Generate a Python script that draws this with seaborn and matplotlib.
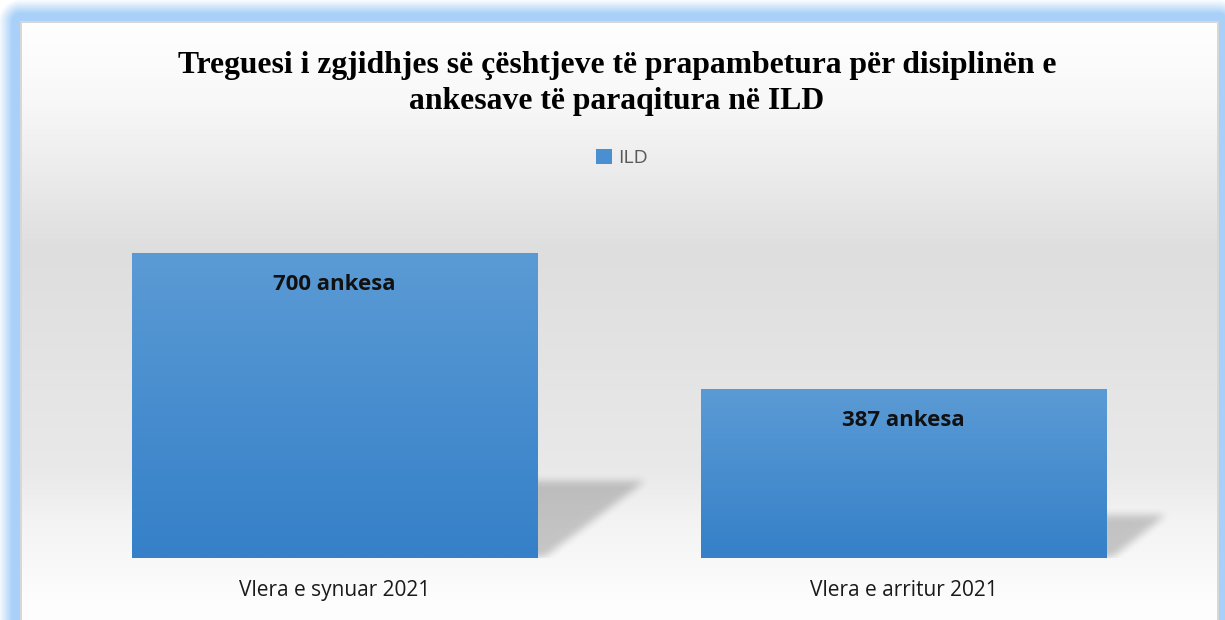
import numpy as np
import pandas as pd
import matplotlib
matplotlib.use("Agg")
import matplotlib.pyplot as plt
import seaborn as sns
from matplotlib.patches import Patch

# ---- data ----
categories = ["Vlera e synuar 2021", "Vlera e arritur 2021"]
values = [700, 387]
value_labels = ["700 ankesa", "387 ankesa"]
series_name = "ILD"
title_text = "Treguesi i zgjidhjes së çështjeve të prapambetura për disiplinën e\nankesave të paraqitura në ILD"

df = pd.DataFrame({"category": categories, "value": values, "series": [series_name] * len(categories)})

sns.set_theme(style="white")
plt.rcParams["font.family"] = ["Open Sans", "DejaVu Sans"]

W, H = 1225, 620
fig = plt.figure(figsize=(W / 100, H / 100), dpi=100)

# ---- background (decoration): blue glow frame + gradient panel ----
bg = fig.add_axes([0, 0, 1, 1], zorder=-10)
bg.set_xlim(0, W)
bg.set_ylim(H, 0)
bg.axis("off")
yy, xx = np.mgrid[0:H, 0:W]
px0, px1, py0 = 20, 1218, 21
dx = np.maximum(np.maximum(px0 - xx, xx - px1), 0)
dy = np.maximum(py0 - yy, 0)
d = np.sqrt(dx ** 2 + dy ** 2)
inside = (xx >= px0) & (xx <= px1) & (yy >= py0)
blue = np.array([168, 208, 248]) / 255.0
white = np.array([1.0, 1.0, 1.0])
t = np.clip(1 - (d - 8) / 14, 0, 1)[..., None]
img = white * (1 - t) + blue * t
ctrl_y = [21, 100, 250, 470, 520, 600, 620]
ctrl_v = [255, 248, 222, 233, 243, 253, 254]
g = np.interp(np.arange(H), ctrl_y, ctrl_v) / 255.0
panel = np.repeat(g[:, None], W, axis=1)[..., None] * np.ones(3)
img = np.where(inside[..., None], panel, img)
border = inside & ((xx <= px0 + 1) | (xx >= px1 - 1) | (yy <= py0 + 1))
img[border] = np.array([215, 215, 215]) / 255.0
bg.imshow(img, extent=(0, W, H, 0), aspect="auto", interpolation="bilinear")

# ---- main axes ----
ymax = 800
ax = fig.add_axes([50 / W, 62 / H, 1138 / W, 348.6 / H])
ax.patch.set_alpha(0)
sns.barplot(data=df, x="category", y="value", hue="series", ax=ax,
            width=0.712, palette=["#4a8fd2"], legend=False, saturation=1)
ax.set_xlim(-0.5, 1.5)
ax.set_ylim(0, ymax)
for s in ax.spines.values():
    s.set_visible(False)
ax.set_yticks([])
ax.set_xlabel("")
ax.set_ylabel("")
ax.tick_params(axis="x", length=0, pad=16, labelsize=15, labelcolor="#1a1a1a")

top_c = np.array([0x5B, 0x9B, 0xD5]) / 255.0
bot_c = np.array([0x35, 0x80, 0xC8]) / 255.0
grad = np.linspace(0, 1, 256)[:, None, None]
grad_img = top_c * (1 - grad) + bot_c * grad
grad_img = np.repeat(grad_img, 2, axis=1)

# blurred perspective shadows (decoration derived from bar geometry)
nx, ny = 1138, 349
gx = np.linspace(-0.5, 1.5, nx)
gy = np.linspace(ymax, 0, ny)
GX, GY = np.meshgrid(gx, gy)
mask = np.zeros_like(GX)
for p in ax.patches:
    x0 = p.get_x()
    w = p.get_width()
    h = p.get_height()
    xr = x0 + w
    sh = 0.25 * h
    ext = 0.00027 * h
    inpoly = (GY <= sh) & (GY >= 0) & (GX >= xr - 0.01) & \
             (GX <= xr + 0.012 + (ext - 0.012) * (GY / sh))
    mask = np.maximum(mask, inpoly.astype(float))
k = np.ones(9) / 9.0
for _ in range(2):
    mask = np.apply_along_axis(lambda r: np.convolve(r, k, mode="same"), 1, mask)
    mask = np.apply_along_axis(lambda c: np.convolve(c, k, mode="same"), 0, mask)
shadow = np.zeros((ny, nx, 4))
shadow[..., 3] = mask * 0.2
ax.imshow(shadow, extent=(-0.5, 1.5, 0, ymax), aspect="auto", zorder=0.5,
          interpolation="bilinear")

for p in ax.patches:
    x0, w, h = p.get_x(), p.get_width(), p.get_height()
    p.set_facecolor("none")
    p.set_edgecolor("none")
    im = ax.imshow(grad_img, extent=(x0, x0 + w, 0, h), aspect="auto", zorder=2,
                   interpolation="bilinear")
    im.set_clip_path(p)
ax.set_xlim(-0.5, 1.5)
ax.set_ylim(0, ymax)

for i, (v, lab) in enumerate(zip(values, value_labels)):
    ax.annotate(lab, xy=(i, v), xytext=(0, -22.5), textcoords="offset points",
                ha="center", va="center", fontsize=16, fontweight="bold",
                color="#111111", zorder=5)

fig.text(617 / W, 1 - 83.5 / H, title_text, ha="center", va="center",
         fontsize=22.8, fontweight="bold", family=["Liberation Serif", "DejaVu Serif"],
         linespacing=1.3, color="#000000")

handles = [Patch(facecolor="#4a8fd2", edgecolor="none", label=series_name)]
leg = fig.legend(handles=handles, loc="center", bbox_to_anchor=(622 / W, 1 - 158 / H),
                 frameon=False, handlelength=0.8, handleheight=0.8, handletextpad=0.3,
                 prop={"size": 14})
for t_ in leg.get_texts():
    t_.set_color("#595959")

fig.savefig("out.png", dpi=100)
